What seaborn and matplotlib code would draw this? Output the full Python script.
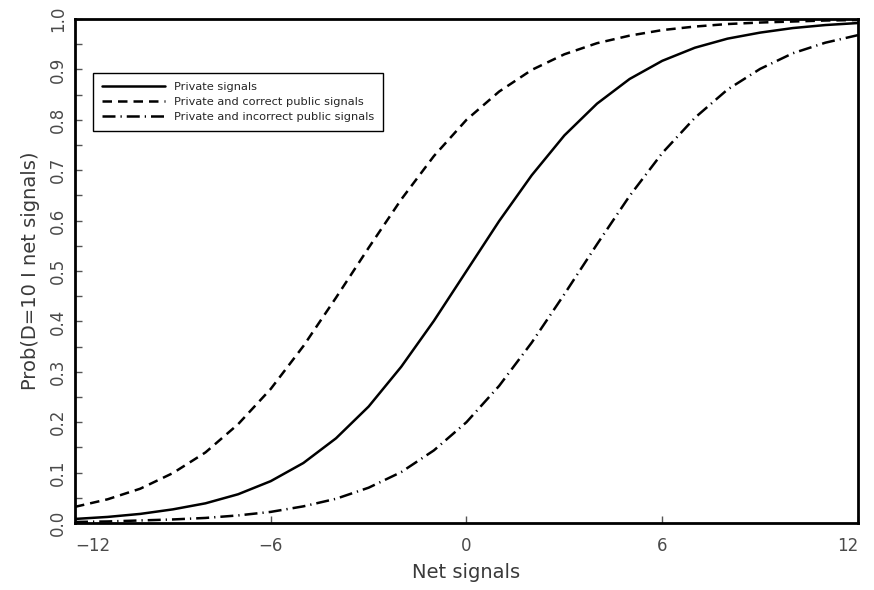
import matplotlib
matplotlib.use("Agg")
import matplotlib.pyplot as plt
import seaborn as sns
import pandas as pd
import numpy as np

net_signals = list(range(-12, 13))
private = [0.008, 0.012, 0.018, 0.027, 0.039, 0.057, 0.083, 0.119, 0.168, 0.231, 0.310, 0.401, 0.500,
           0.599, 0.690, 0.769, 0.832, 0.881, 0.917, 0.943, 0.961, 0.973, 0.982, 0.988, 0.992]
correct = [0.032, 0.047, 0.068, 0.099, 0.140, 0.196, 0.266, 0.351, 0.447, 0.546, 0.642, 0.728, 0.800,
           0.856, 0.899, 0.930, 0.952, 0.967, 0.978, 0.985, 0.990, 0.993, 0.995, 0.997, 0.998]
incorrect = [0.002, 0.003, 0.005, 0.007, 0.010, 0.015, 0.022, 0.033, 0.048, 0.070, 0.101, 0.144, 0.200,
             0.272, 0.358, 0.454, 0.553, 0.649, 0.734, 0.804, 0.860, 0.901, 0.932, 0.953, 0.968]
labels = ["Private signals", "Private and correct public signals", "Private and incorrect public signals"]
x_ticks = [-12, -6, 0, 6, 12]
x_ticklabels = ["\u221212", "\u22126", "0", "6", "12"]
y_ticks = [0.0, 0.1, 0.2, 0.3, 0.4, 0.5, 0.6, 0.7, 0.8, 0.9, 1.0]
y_minor = [0.05, 0.15, 0.25, 0.35, 0.45, 0.55, 0.65, 0.75, 0.85, 0.95]

df = pd.concat([
    pd.DataFrame({"x": net_signals, "y": vals, "series": lab})
    for vals, lab in zip([private, correct, incorrect], labels)
])

sns.set_style("ticks")
plt.rcParams["font.family"] = ["DejaVu Sans"]

fig = plt.figure(figsize=(8.74, 5.90), dpi=100)
ax = fig.add_axes([0.0858, 0.1136, 0.8959, 0.8542])

dashes = {labels[0]: "", labels[1]: (3.8, 2.4), labels[2]: (5.2, 2.0, 0.5, 2.0)}
sns.lineplot(data=df, x="x", y="y", hue="series", style="series", dashes=dashes,
             palette=["black"] * 3, linewidth=1.8, ax=ax, legend=True)

ax.set_xlim(-12, 12)
ax.set_ylim(0, 1)
ax.set_xticks(x_ticks)
ax.set_xticklabels(x_ticklabels)
ax.set_yticks(y_ticks)
ax.set_yticks(y_minor, minor=True)
ax.set_yticklabels([f"{v:.1f}" for v in y_ticks], rotation=90, va="center")
ax.tick_params(axis="both", which="major", direction="in", length=5, width=1, color="#555555",
               labelsize=12, labelcolor="#4a4a4a")
ax.tick_params(axis="y", which="minor", direction="in", length=5, width=1, color="#555555")
ax.tick_params(axis="x", pad=10)
ax.tick_params(axis="y", pad=6)
tl = ax.get_xticklabels()
tl[0].set_ha("left")
tl[-1].set_ha("right")

for s in ax.spines.values():
    s.set_linewidth(2)
    s.set_color("black")

ax.set_xlabel("Net signals", fontsize=14, color="#3a3a3a", labelpad=6)
ax.set_ylabel("Prob(D=10 I net signals)", fontsize=14, color="#3a3a3a", labelpad=6)

leg = ax.legend(loc="upper left", bbox_to_anchor=(0.016, 0.905), fontsize=8.2, frameon=True,
                fancybox=False, edgecolor="black", framealpha=1, handlelength=5.5, borderpad=0.8,
                labelspacing=0.45, handletextpad=0.8)
leg.get_frame().set_linewidth(1)

fig.savefig("out.png", dpi=100)
